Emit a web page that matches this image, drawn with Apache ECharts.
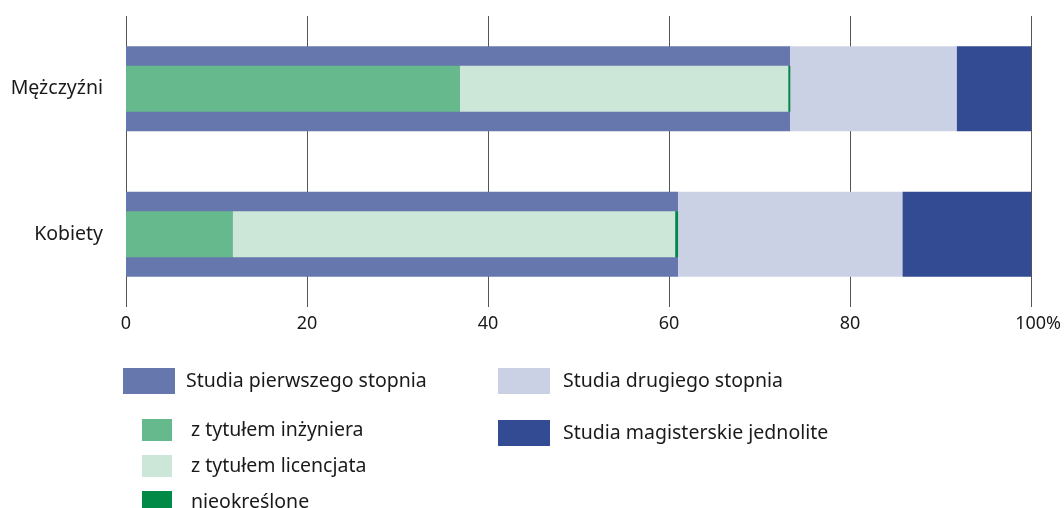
<!DOCTYPE html>
<html>
<head>
<meta charset="utf-8">
<script src="https://cdn.jsdelivr.net/npm/echarts@6/dist/echarts.min.js"></script>
<style>html,body{margin:0;padding:0;background:#fff}#c{width:1064px;height:508px}</style>
</head>
<body>
<div id="c"></div>
<script>
const categories = ['Mężczyźni', 'Kobiety'];
const pierwszegoStopnia = [73.4, 61.0];
const drugiegoStopnia = [18.4, 24.8];
const magisterskie = [8.2, 14.2];
const inzyniera = [36.9, 11.8];
const licencjata = [36.3, 48.9];
const nieokreslone = [0.2, 0.3];
const xTicks = [0, 20, 40, 60, 80, 100];

const FONT = 'Noto Sans';
const LEG_FS = 19.5;
const chart = echarts.init(document.getElementById('c'));
chart.setOption({
  animation: false,
  textStyle: { fontFamily: FONT },
  grid: { left: 126, right: 32, top: 16, height: 291, containLabel: false },
  xAxis: {
    type: 'value', min: xTicks[0], max: xTicks[xTicks.length - 1], interval: xTicks[1] - xTicks[0],
    axisLine: { show: false }, axisTick: { show: false },
    splitLine: { show: true, lineStyle: { color: '#555', width: 1 } },
    axisLabel: { margin: 8, fontSize: 18, color: '#1a1a1a', fontFamily: FONT,
      formatter: v => (v === 100 ? '{p|100%}' : String(v)),
      rich: { p: { fontSize: 18, color: '#1a1a1a', fontFamily: FONT, padding: [0, 0, 0, 14] } } }
  },
  yAxis: [
    { type: 'category', data: categories, inverse: true,
      axisLine: { show: false }, axisTick: { show: false },
      axisLabel: { margin: 23, fontSize: 19.5, color: '#1a1a1a', fontFamily: FONT } },
    { type: 'category', data: categories, inverse: true, show: false }
  ],
  legend: [
    { data: ['Studia pierwszego stopnia'], left: 123, top: 368, orient: 'vertical', padding: 0,
      icon: 'rect', itemWidth: 52, itemHeight: 26, selectedMode: false,
      textStyle: { fontSize: LEG_FS, color: '#1a1a1a', fontFamily: FONT, padding: [0, 0, 0, 6] } },
    { data: ['z tytułem inżyniera', 'z tytułem licencjata', 'nieokreślone'], left: 142, top: 419, height: 140,
      orient: 'vertical', padding: 0,
      icon: 'rect', itemWidth: 30, itemHeight: 22, itemGap: 14, selectedMode: false,
      textStyle: { fontSize: LEG_FS, color: '#1a1a1a', fontFamily: FONT, padding: [0, 0, 0, 14] } },
    { data: ['Studia drugiego stopnia', 'Studia magisterskie jednolite'], left: 498, top: 368, orient: 'vertical', padding: 0,
      icon: 'rect', itemWidth: 52, itemHeight: 26, itemGap: 26, selectedMode: false,
      textStyle: { fontSize: LEG_FS, color: '#1a1a1a', fontFamily: FONT, padding: [0, 0, 0, 8] } }
  ],
  series: [
    { name: 'Studia pierwszego stopnia', type: 'bar', stack: 'outer', yAxisIndex: 0, barWidth: 85,
      itemStyle: { color: '#6677ad' }, data: pierwszegoStopnia },
    { name: 'Studia drugiego stopnia', type: 'bar', stack: 'outer', yAxisIndex: 0, barWidth: 85,
      itemStyle: { color: '#cbd1e4' }, data: drugiegoStopnia },
    { name: 'Studia magisterskie jednolite', type: 'bar', stack: 'outer', yAxisIndex: 0, barWidth: 85,
      itemStyle: { color: '#334b93' }, data: magisterskie },
    { name: 'z tytułem inżyniera', type: 'bar', stack: 'inner', yAxisIndex: 1, barWidth: 46,
      itemStyle: { color: '#66b98c' }, data: inzyniera },
    { name: 'z tytułem licencjata', type: 'bar', stack: 'inner', yAxisIndex: 1, barWidth: 46,
      itemStyle: { color: '#cce6d8' }, data: licencjata },
    { name: 'nieokreślone', type: 'bar', stack: 'inner', yAxisIndex: 1, barWidth: 46,
      itemStyle: { color: '#008a45' }, data: nieokreslone }
  ]
});
</script>
</body>
</html>
